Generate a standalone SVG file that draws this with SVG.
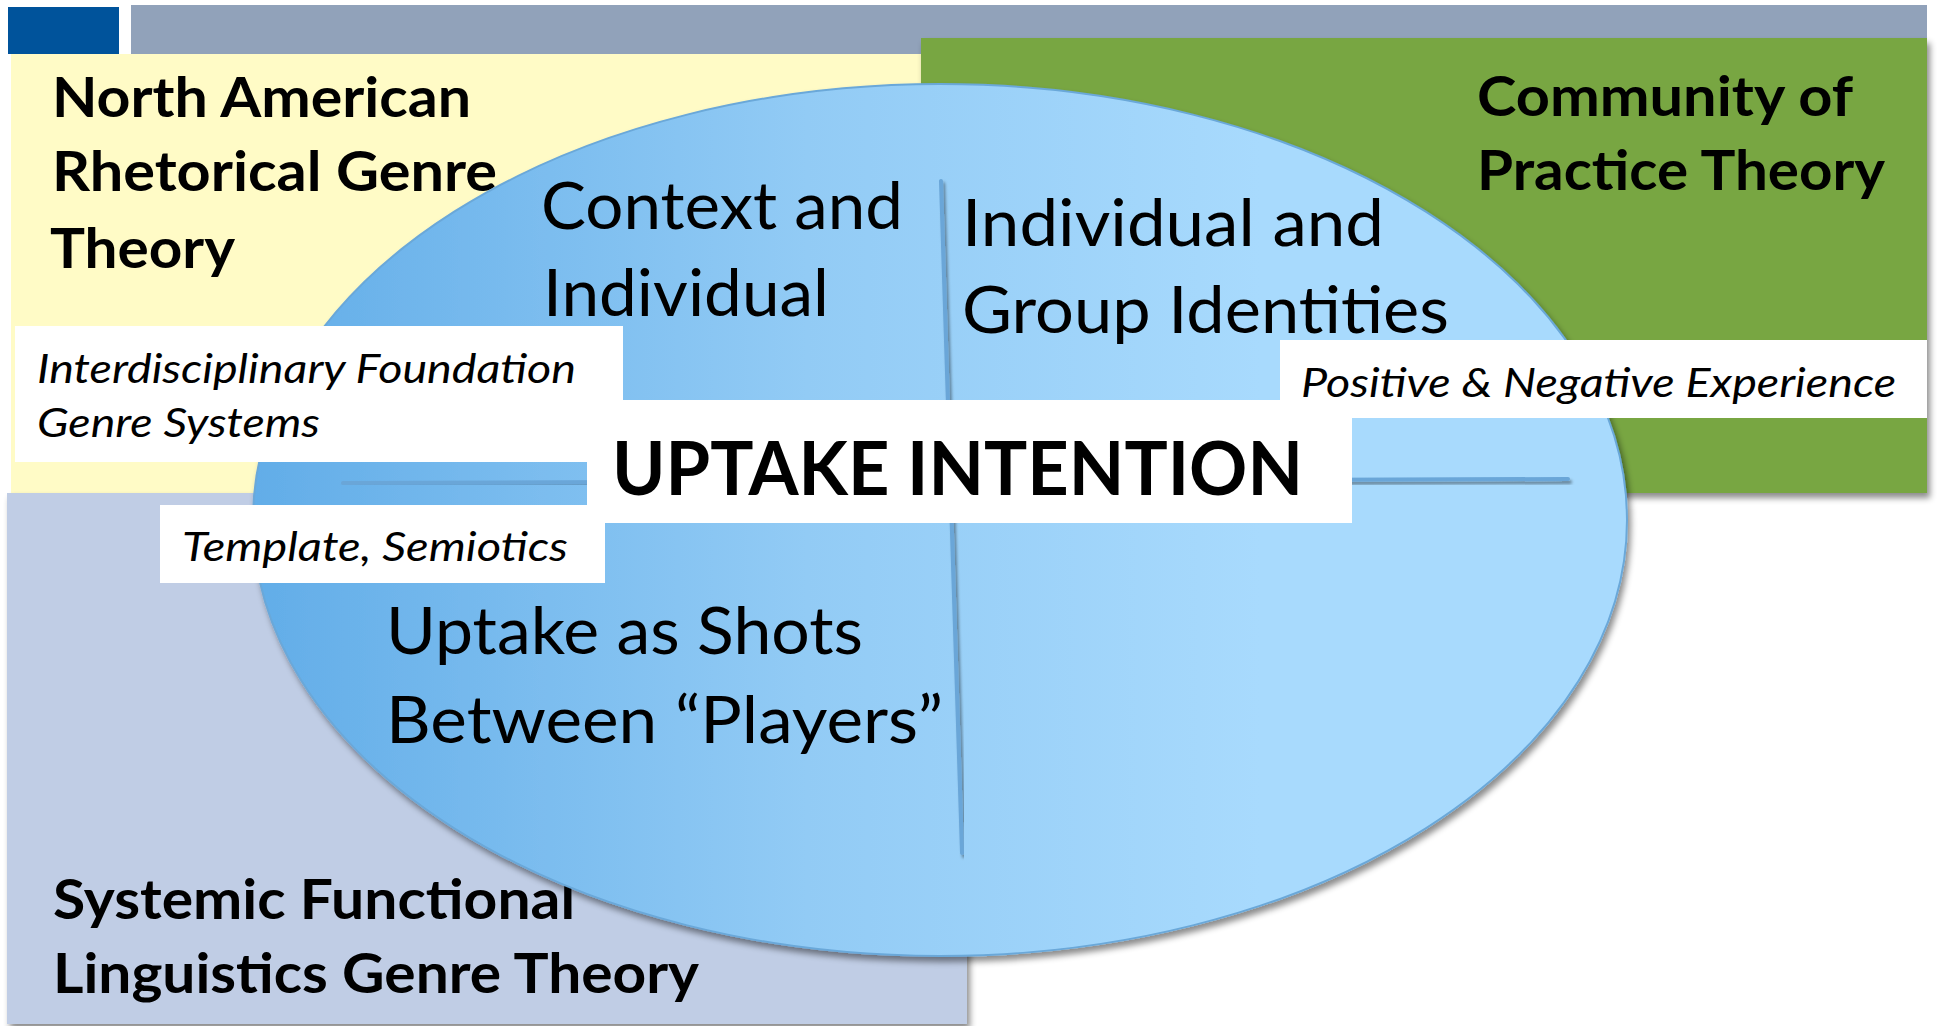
<svg xmlns="http://www.w3.org/2000/svg" width="1937" height="1026" viewBox="0 0 1937 1026">
  <defs>
    <linearGradient id="ellGrad" gradientUnits="userSpaceOnUse" x1="253" y1="0" x2="1260" y2="0">
      <stop offset="0" stop-color="#62ADE8"/>
      <stop offset="0.55" stop-color="#92CBF5"/>
      <stop offset="1" stop-color="#A8DAFD"/>
    </linearGradient>
    <filter id="shadow" x="-5%" y="-5%" width="110%" height="112%">
      <feDropShadow dx="3" dy="5" stdDeviation="3" flood-color="#000" flood-opacity="0.45"/>
    </filter>
    <filter id="lineShadow" x="-5%" y="-50%" width="110%" height="200%">
      <feDropShadow dx="2" dy="3" stdDeviation="1.5" flood-color="#000" flood-opacity="0.4"/>
    </filter>
    <style>
      .head { font-family: Lato, "Open Sans", "Liberation Sans", sans-serif; font-weight: bold; font-size: 55px; fill: #000; }
      .quad { font-family: Lato, "Open Sans", "Liberation Sans", sans-serif; font-weight: normal; font-size: 65px; fill: #000; }
      .note { font-family: Lato, "Open Sans", "Liberation Sans", sans-serif; font-style: italic; font-size: 40px; fill: #000; }
      .title { font-family: Lato, "Open Sans", "Liberation Sans", sans-serif; font-weight: bold; font-size: 74px; fill: #000; }
      .box { fill: #FFFFFF; }
      .axis { stroke: #6AA6D8; stroke-width: 4; fill: none; stroke-linecap: round; }
    </style>
  </defs>

  <rect x="0" y="0" width="1937" height="1026" fill="#FFFFFF"/>

  <!-- header band -->
  <g id="header">
    <rect x="131" y="5" width="1796" height="49" fill="#91A2BA"/>
    <rect x="8" y="7" width="111" height="47" fill="#00539B"/>
  </g>

  <!-- theory regions -->
  <g id="nar-genre-theory">
    <rect x="11" y="54" width="920" height="439" fill="#FFFBC6"/>
    <text class="head" x="52" y="117" textLength="419" lengthAdjust="spacingAndGlyphs">North American</text>
    <text class="head" x="52" y="191" textLength="445" lengthAdjust="spacingAndGlyphs">Rhetorical Genre</text>
    <text class="head" x="50" y="268" textLength="185" lengthAdjust="spacingAndGlyphs">Theory</text>
  </g>

  <g id="community-of-practice">
    <rect x="921" y="38" width="1006" height="455" fill="#78A642" filter="url(#shadow)"/>
    <text class="head" x="1477" y="116" textLength="376" lengthAdjust="spacingAndGlyphs">Community of</text>
    <text class="head" x="1477" y="190" textLength="408" lengthAdjust="spacingAndGlyphs">Practice Theory</text>
  </g>

  <g id="sfl-genre-theory">
    <rect x="7" y="493" width="960" height="531" fill="#C0CDE5" filter="url(#shadow)"/>
    <text class="head" x="53" y="919" textLength="522" lengthAdjust="spacingAndGlyphs">Systemic Functional</text>
    <text class="head" x="53" y="993" textLength="646" lengthAdjust="spacingAndGlyphs">Linguistics Genre Theory</text>
  </g>

  <!-- central ellipse -->
  <g id="uptake-ellipse">
    <ellipse cx="940" cy="520" rx="687" ry="436" fill="url(#ellGrad)" stroke="#6AA8D9" stroke-width="2" filter="url(#shadow)"/>
  </g>

  <!-- quadrant axes -->
  <g id="connectors">
    <line class="axis" x1="941" y1="181" x2="962" y2="853" filter="url(#lineShadow)"/>
    <line class="axis" x1="343" y1="483" x2="1568" y2="479" filter="url(#lineShadow)"/>
  </g>

  <!-- quadrant labels -->
  <g id="quad-context">
    <text class="quad" x="541" y="229" textLength="362" lengthAdjust="spacingAndGlyphs">Context and</text>
    <text class="quad" x="543" y="316" textLength="286" lengthAdjust="spacingAndGlyphs">Individual</text>
  </g>
  <g id="quad-identities">
    <text class="quad" x="962" y="246" textLength="422" lengthAdjust="spacingAndGlyphs">Individual and</text>
    <text class="quad" x="962" y="333" textLength="487" lengthAdjust="spacingAndGlyphs">Group Identities</text>
  </g>
  <g id="quad-shots">
    <text class="quad" x="386" y="654" textLength="477" lengthAdjust="spacingAndGlyphs">Uptake as Shots</text>
    <text class="quad" x="386" y="743" textLength="557" lengthAdjust="spacingAndGlyphs">Between “Players”</text>
  </g>

  <!-- white note boxes -->
  <g id="note-interdisciplinary">
    <rect class="box" x="15" y="326" width="608" height="136"/>
    <text class="note" x="37" y="383" textLength="539" lengthAdjust="spacingAndGlyphs">Interdisciplinary Foundation</text>
    <text class="note" x="37" y="437" textLength="283" lengthAdjust="spacingAndGlyphs">Genre Systems</text>
  </g>
  <g id="note-experience">
    <rect class="box" x="1280" y="340" width="647" height="78"/>
    <text class="note" x="1301" y="397" textLength="595" lengthAdjust="spacingAndGlyphs">Positive &amp; Negative Experience</text>
  </g>
  <g id="uptake-intention">
    <rect class="box" x="587" y="400" width="765" height="123"/>
    <text class="title" x="612" y="495" textLength="691" lengthAdjust="spacingAndGlyphs">UPTAKE INTENTION</text>
  </g>
  <g id="note-template">
    <rect class="box" x="160" y="505" width="445" height="78"/>
    <text class="note" x="182" y="561" textLength="386" lengthAdjust="spacingAndGlyphs">Template, Semiotics</text>
  </g>
</svg>
